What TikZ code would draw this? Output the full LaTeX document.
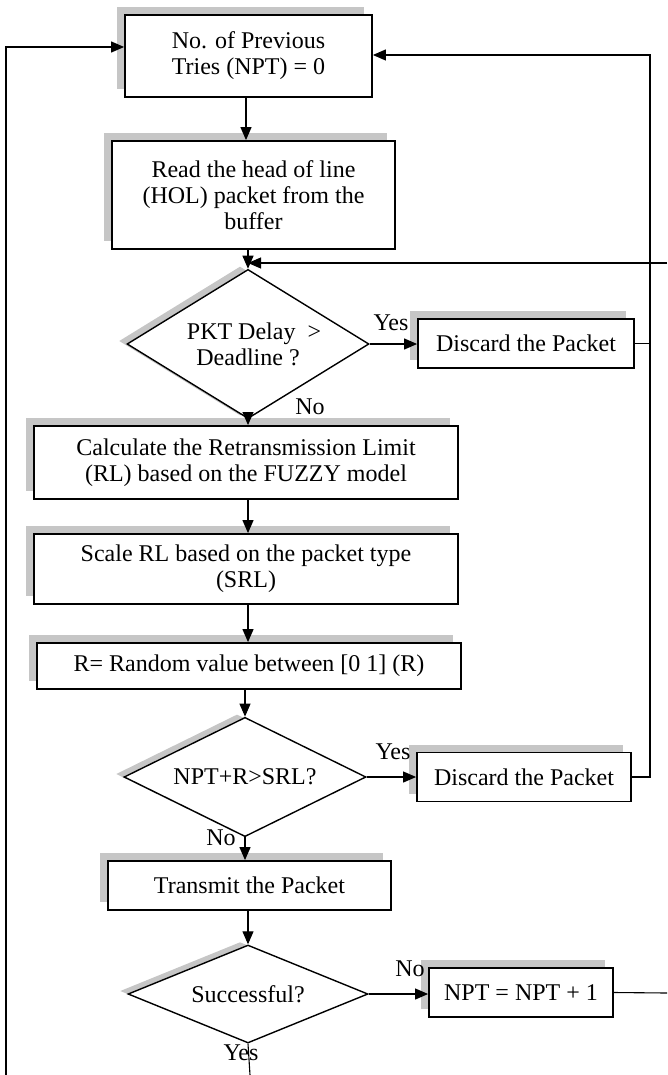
\documentclass[tikz,border=0pt]{standalone}
\usepackage{fontspec}
\setmainfont{Liberation Serif}
\usetikzlibrary{shapes.geometric,shadows,arrows.meta}
\begin{document}
\begin{tikzpicture}[x=1pt,y=-1pt,
  every node/.style={font=\fontsize{24}{26}\selectfont},
  shd/.style={general shadow={fill=gray!45, draw=none, shadow xshift=-8pt, shadow yshift=8pt}},
  dshd/.style={general shadow={fill=gray!45, draw=none, shadow xshift=-8pt, shadow yshift=3pt}},
  box/.style={draw, line width=1.8pt, rectangle, fill=white, align=center, inner sep=0pt, shd},
  dia/.style={draw, line width=1.4pt, diamond, fill=white, align=center, inner sep=-10pt, dshd},
  arr/.style={-{Triangle[length=13pt,width=11pt]}, line width=1.1pt},
  ln/.style={line width=1.1pt},
  lbl/.style={inner sep=0pt}
]
\useasboundingbox (0,0) rectangle (667,1075);

% nodes
\node[box, minimum width=247pt, minimum height=82pt] (b1) at (248.5,56) {No. of Previous\\Tries (NPT) = 0};
\node[box, minimum width=283pt, minimum height=108pt] (b2) at (253.5,195) {Read the head of line\\(HOL) packet from the\\buffer};
\node[dia, minimum width=242pt, minimum height=100pt] (d1) at (248,344) {\hspace*{12pt}PKT Delay~~>\\Deadline ?};
\node[box, minimum width=216pt, minimum height=49pt] (dis1) at (526,343.5) {Discard the Packet};
\node[box, minimum width=424pt, minimum height=73pt] (b3) at (246,462.5) {Calculate the Retransmission Limit\\(RL) based on the FUZZY model};
\node[box, minimum width=424pt, minimum height=70pt] (b4) at (246,569) {Scale RL based on the packet type\\(SRL)};
\node[box, minimum width=424pt, minimum height=46pt] (b5) at (249,666) {R= Random value between [0 1] (R)};
\node[dia, minimum width=242pt, minimum height=100pt] (d2) at (245,777) {NPT+R>SRL?};
\node[box, minimum width=214pt, minimum height=49pt] (dis2) at (524,777) {Discard the Packet};
\node[box, minimum width=283pt, minimum height=49pt] (b6) at (249.5,885.5) {Transmit the Packet};
\node[dia, minimum width=240pt, minimum height=98pt] (d3) at (248,994) {Successful?};
\node[box, minimum width=184pt, minimum height=49pt] (npt) at (521,992.5) {NPT = NPT + 1};

% labels
\node[lbl] (y1) at (391,323) {Yes};
\node[lbl] (n1) at (310,407) {No};
\node[lbl] (y2) at (393,752) {Yes};
\node[lbl] (n2) at (221,838) {No};
\node[lbl] (n3) at (410,969) {No};
\node[lbl] (y3) at (241,1053) {Yes};

% coordinates
\coordinate (Lb) at (6,1075);
\coordinate (Lt) at (6,47);
\coordinate (Rt) at (650,55);
\coordinate (c1) at (246,0);
\coordinate (Rr) at (667,263);
\coordinate (Rb) at (667,993);
\coordinate (Db) at (250,1075);

% connectors
\draw[arr] (Lb) -- (Lt) -- (Lt -| b1.west);
\draw[ln] (dis1.east) -- (dis1.east -| Rt);
\draw[arr] (dis2.east) -- (dis2.east -| Rt) -- (Rt) -- (Rt -| b1.east);
\draw[arr] (b1.south -| c1) -- (b2.north -| c1);
\draw[arr] (b2.south -| d1.north) -- (d1.north);
\draw[arr] (Rr) -- (Rr -| d1.north);
\draw[arr] (d1.east) -- (d1.east -| dis1.west);
\draw[arr] (d1.south) -- (d1.south |- b3.north);
\draw[arr] (b3.south -| d1.south) -- (b4.north -| d1.south);
\draw[arr] (b4.south -| d1.south) -- (b5.north -| d1.south);
\draw[arr] (b5.south -| d2.north) -- (d2.north);
\draw[arr] (d2.east) -- (d2.east -| dis2.west);
\draw[arr] (d2.south) -- (d2.south |- b6.north);
\draw[arr] (b6.south -| d3.north) -- (d3.north);
\draw[arr] (d3.east) -- (d3.east -| npt.west);
\draw[ln] (npt.east) -- (Rb);
\draw[ln] (d3.south) -- (Db);
\end{tikzpicture}
\end{document}
